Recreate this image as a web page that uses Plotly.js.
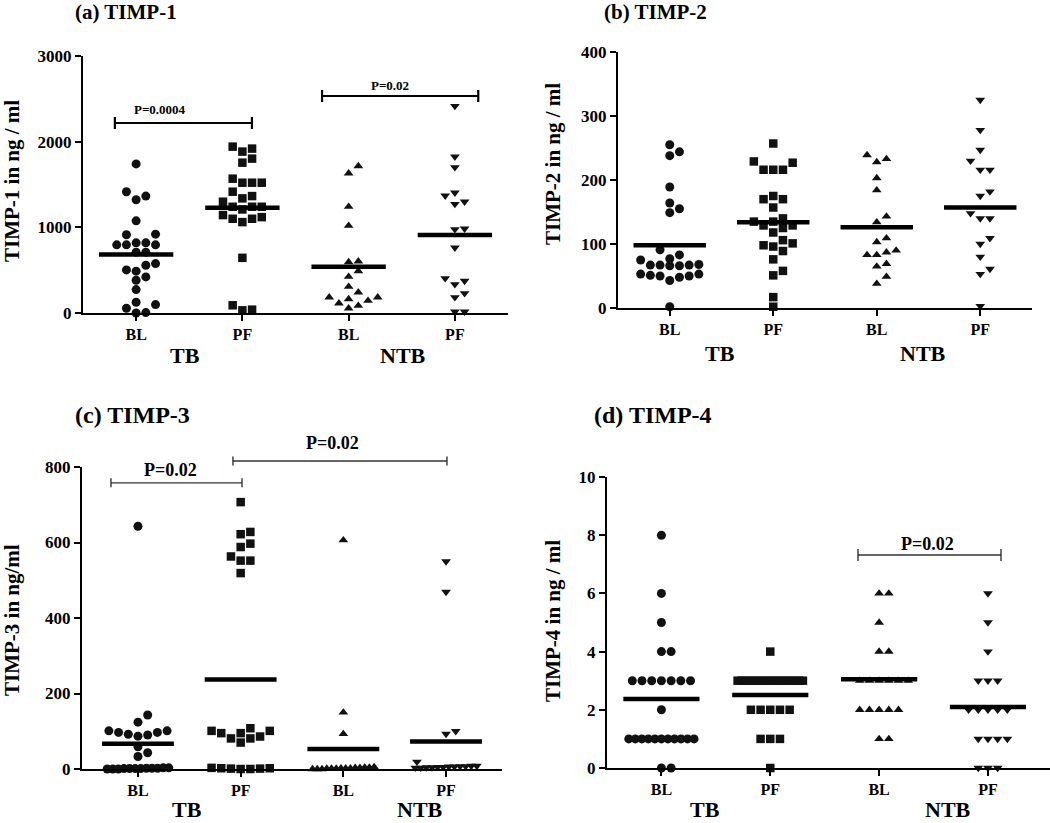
<!DOCTYPE html>
<html><head><meta charset="utf-8">
<script src="https://cdn.plot.ly/plotly-3.0.1.min.js"></script>
<style>html,body{margin:0;padding:0;background:#fff}#chart{width:1050px;height:823px}</style>
</head><body><div id="chart"></div>
<script>
// ---------------- DATA ----------------
const timepoints = ['BL', 'PF', 'BL', 'PF'];
const cohorts = ['TB', 'NTB'];
const panelTitles = ['(a) TIMP-1', '(b) TIMP-2', '(c) TIMP-3', '(d) TIMP-4'];
const yTitles = ['TIMP-1 in ng / ml', 'TIMP-2 in ng / ml', 'TIMP-3 in ng/ml', 'TIMP-4 in ng / ml'];

// (a) TIMP-1
const timp1_TB_BL = [1740, 1416, 1365, 1322, 1076, 920, 913, 819, 819, 796, 796, 796, 710, 710, 577, 558, 503, 488, 421, 382, 273, 125, 98, 55, 5, 0];
const timp1_TB_PF = [1942, 1919, 1884, 1802, 1755, 1568, 1521, 1521, 1521, 1416, 1365, 1338, 1299, 1240, 1240, 1240, 1209, 1143, 1119, 1100, 1100, 1061, 644, 90, 39, 31];
const timp1_NTB_BL = [1716, 1630, 1241, 1019, 603, 595, 490, 424, 307, 241, 183, 183, 163, 144, 113, 86, 54];
const timp1_NTB_PF = [2416, 1825, 1700, 1405, 1370, 1300, 1272, 984, 977, 763, 405, 374, 335, 230, 183, 16, 16];
const timp1_means = [683, 1229, 541, 910];

// (b) TIMP-2
const timp2_TB_BL = [255, 244, 238, 189, 164, 155, 149, 91, 83, 77, 75, 67, 66, 67, 66, 67, 68, 53, 50, 48, 43, 50, 51, 53, 2];
const timp2_TB_PF = [257, 227, 229, 216, 216, 216, 175, 170, 170, 157, 140, 135, 135, 129, 129, 125, 118, 106, 101, 98, 96, 89, 76, 58, 51, 17, 2];
const timp2_NTB_BL = [239, 233, 228, 203, 184, 143, 134, 109, 103, 90, 87, 83, 83, 69, 65, 49, 38];
const timp2_NTB_PF = [325, 278, 247, 230, 216, 216, 182, 175, 148, 140, 140, 109, 100, 80, 61, 53, 3];
const timp2_means = [98, 134, 126, 157];

// (c) TIMP-3
const timp3_TB_BL = [643, 143, 124, 101, 97, 92, 87, 90, 97, 101, 59, 43, 33, 0, 0, 1, 1, 1, 2, 2, 2, 3, 3, 0, 1];
const timp3_TB_PF = [707, 628, 622, 597, 588, 563, 552, 552, 519, 108, 101, 101, 95, 95, 86, 81, 81, 70, 0, 0, 1, 1, 2, 2, 3];
const timp3_NTB_BL = [606, 150, 93, 0, 0, 0, 1, 1, 1, 2, 2, 2, 3, 3, 4, 4, 5];
const timp3_NTB_PF = [550, 469, 100, 93, 19, 3, 3, 4, 4, 5, 5, 6, 6, 7, 7, 8, 8];
const timp3_means = [67, 237, 53, 73];

// (d) TIMP-4
const timp4_TB_BL = [8, 6, 5, 4, 4, 3, 3, 3, 3, 3, 3, 3, 2, 1, 1, 1, 1, 1, 1, 1, 1, 1, 1, 1, 0, 0];
const timp4_TB_PF = [4, 3, 3, 3, 3, 3, 3, 3, 3, 3, 3, 3, 3, 3, 3, 3, 3, 3, 2, 2, 2, 2, 2, 1, 1, 1, 0];
const timp4_NTB_BL = [6, 6, 5, 4, 4, 3, 3, 3, 3, 3, 3, 2, 2, 2, 2, 2, 1, 1];
const timp4_NTB_PF = [6, 5, 4, 3, 3, 3, 2, 2, 2, 2, 2, 1, 1, 1, 1, 0, 0, 0];
const timp4_means = [2.37, 2.51, 3.05, 2.1];

const pTexts_a = ['P=0.0004', 'P=0.02'];
const pTexts_c = ['P=0.02', 'P=0.02'];
const pTexts_d = ['P=0.02'];

// ---------------- LAYOUT / STYLE ----------------
const W = 1050, H = 823;
const SERIF = 'Liberation Serif, Times New Roman, serif';
const symbols = ['circle', 'square', 'triangle-up', 'triangle-down'];
const symSize = [9, 8.5, 8.5, 8.5];

const panels = [
  { groups: [timp1_TB_BL, timp1_TB_PF, timp1_NTB_BL, timp1_NTB_PF], means: timp1_means,
    xpx: [83, 508], ypx: [56, 313], xr: [-0.5, 3.5], yr: [0, 3000], dtick: 1000,
    title: { x: 73, y: 12, size: 21 }, ytitle: { x: 12, y: 181 },
    groupLab: [{ c: 0.46, y: 355 }, { c: 2.51, y: 355 }],
    brackets: [{ c0: -0.2, c1: 1.09, v: 2218, tc: 0.225, tv: 2381, text: pTexts_a[0] },
               { c0: 1.75, c1: 3.22, v: 2533, tc: 2.39, tv: 2650, text: pTexts_a[1] }],
    bStyle: { w: 2.2, col: '#000', tick: 6, font: 13 } },
  { groups: [timp2_TB_BL, timp2_TB_PF, timp2_NTB_BL, timp2_NTB_PF], means: timp2_means,
    xpx: [618, 1032], ypx: [52, 308], xr: [-0.5, 3.5], yr: [0, 400], dtick: 100,
    title: { x: 602, y: 12, size: 21 }, ytitle: { x: 553, y: 164 },
    groupLab: [{ c: 0.49, y: 353 }, { c: 2.45, y: 353 }],
    brackets: [], bStyle: null },
  { groups: [timp3_TB_BL, timp3_TB_PF, timp3_NTB_BL, timp3_NTB_PF], means: timp3_means,
    xpx: [82, 502], ypx: [467, 769], xr: [-0.545, 3.545], yr: [0, 800], dtick: 200,
    title: { x: 73, y: 415, size: 24 }, ytitle: { x: 12, y: 620 },
    groupLab: [{ c: 0.48, y: null }, { c: 2.75, y: null }],
    brackets: [{ c0: -0.263, c1: 1.013, v: 758, tc: 0.317, tv: 792, text: pTexts_c[0] },
               { c0: 0.925, c1: 3.009, v: 816, tc: 1.89, tv: 864, text: pTexts_c[1] }],
    bStyle: { w: 1.4, col: '#333', tick: 4.5, font: 18 } },
  { groups: [timp4_TB_BL, timp4_TB_PF, timp4_NTB_BL, timp4_NTB_PF], means: timp4_means,
    xpx: [607, 1050], ypx: [477, 768], xr: [-0.5, 3.57], yr: [0, 10], dtick: 2,
    title: { x: 592, y: 415, size: 24 }, ytitle: { x: 553, y: 621 },
    groupLab: [{ c: 0.40, y: null }, { c: 2.63, y: null }],
    brackets: [{ c0: 1.806, c1: 3.12, v: 7.32, tc: 2.449, tv: 7.70, text: pTexts_d[0] }],
    bStyle: { w: 1.4, col: '#333', tick: 6, font: 18 } }
];

// dot-plot spreading (Prism-like): points on a grid of marker pitches, ties compressed
function spread(values, pxPerUnit, pxPerCat) {
  const s = 9.7, d = 9, K = 3, halfW = 0.3 * pxPerCat;
  const n = values.length;
  const idx = values.map((v, i) => i).sort((a, b) => values[a] - values[b]);
  const py = values.map(v => v * pxPerUnit);
  const off = new Array(n).fill(null);
  const chains = []; let cur = [idx[0]];
  for (let j = 1; j < n; j++) {
    if (py[idx[j]] - py[idx[j - 1]] < 1.5) cur.push(idx[j]);
    else { chains.push(cur); cur = [idx[j]]; }
  }
  chains.push(cur);
  const placed = [];
  chains.forEach(ch => {
    if (ch.length > 2 * K + 1) {
      const step = 2 * halfW / (ch.length - 1);
      ch.forEach((i, m) => { off[i] = -halfW + m * step; placed.push(i); });
    }
  });
  for (const i of idx) {
    if (off[i] !== null) continue;
    let best = 0, bestScore = -1;
    for (let t = 0; t <= 2 * K; t++) {
      const k = t === 0 ? 0 : (t % 2 ? (t + 1) / 2 : -t / 2);
      const x = k * s;
      let minD = Infinity;
      for (const j of placed) {
        if (Math.abs(off[j] - x) < s * 0.95) minD = Math.min(minD, Math.abs(py[j] - py[i]));
      }
      if (minD >= d) { best = x; break; }
      if (minD > bestScore) { bestScore = minD; best = x; }
    }
    off[i] = best; placed.push(i);
  }
  return off.map(o => o / pxPerCat);
}

const traces = [];
const layout = {
  width: W, height: H, margin: { l: 0, r: 0, t: 0, b: 0 },
  paper_bgcolor: '#fff', plot_bgcolor: '#fff', showlegend: false,
  annotations: [], shapes: [],
  font: { family: SERIF, color: '#000' }
};

panels.forEach((p, pi) => {
  const sfx = pi === 0 ? '' : String(pi + 1);
  const xa = 'x' + sfx, ya = 'y' + sfx;
  const xdom = [p.xpx[0] / W, p.xpx[1] / W];
  const ydom = [1 - p.ypx[1] / H, 1 - p.ypx[0] / H];
  const hPx = p.ypx[1] - p.ypx[0], wPx = p.xpx[1] - p.xpx[0];
  const pxPerUnit = hPx / (p.yr[1] - p.yr[0]);
  const pxPerCat = wPx / (p.xr[1] - p.xr[0]);
  const toPX = c => (p.xpx[0] + (c - p.xr[0]) * pxPerCat) / W;
  const toPY = v => 1 - (p.ypx[1] - (v - p.yr[0]) * pxPerUnit) / H;

  p.groups.forEach((vals, g) => {
    const offs = spread(vals, pxPerUnit, pxPerCat);
    traces.push({
      type: 'scatter', mode: 'markers', xaxis: xa, yaxis: ya, cliponaxis: false,
      x: vals.map((v, i) => g + offs[i]), y: vals,
      marker: { symbol: symbols[g], size: symSize[g], color: '#111', line: { width: 0 } },
      hoverinfo: 'y'
    });
  });
  p.means.forEach((m, g) => {
    traces.push({
      type: 'scatter', mode: 'lines', xaxis: xa, yaxis: ya, cliponaxis: false,
      x: [g - 0.35, g + 0.35], y: [m, m],
      line: { color: '#000', width: 4.5 }, hoverinfo: 'skip'
    });
  });

  layout['xaxis' + sfx] = {
    domain: xdom, range: p.xr, anchor: ya, fixedrange: true,
    tickmode: 'array', tickvals: [0, 1, 2, 3], ticktext: timepoints,
    showline: true, linewidth: 2, linecolor: '#000', mirror: false,
    ticks: 'outside', ticklen: 6, tickwidth: 2, tickcolor: '#000',
    showgrid: false, zeroline: false,
    tickfont: { family: SERIF, size: 16, weight: 'bold', color: '#000' }
  };
  layout['yaxis' + sfx] = {
    domain: ydom, range: p.yr, anchor: xa, fixedrange: true,
    tickmode: 'linear', tick0: 0, dtick: p.dtick,
    showline: true, linewidth: 2, linecolor: '#000',
    ticks: 'outside', ticklen: 6, tickwidth: 2, tickcolor: '#000',
    showgrid: false, zeroline: false,
    tickfont: { family: SERIF, size: 17, weight: 'bold', color: '#000' }
  };

  // panel title
  layout.annotations.push({
    xref: 'paper', yref: 'paper', x: p.title.x / W, y: 1 - p.title.y / H,
    xanchor: 'left', yanchor: 'middle', showarrow: false, text: panelTitles[pi],
    font: { family: SERIF, size: p.title.size, weight: 'bold', color: '#000' }
  });
  // y title
  layout.annotations.push({
    xref: 'paper', yref: 'paper', x: p.ytitle.x / W, y: 1 - p.ytitle.y / H,
    xanchor: 'center', yanchor: 'middle', showarrow: false, textangle: -90, text: yTitles[pi],
    font: { family: SERIF, size: 21, weight: 'bold', color: '#000' }
  });
  // cohort labels (bottom row sits on the lower page edge)
  p.groupLab.forEach((gl, k) => {
    const atEdge = gl.y === null;
    layout.annotations.push({
      xref: 'paper', yref: 'paper', x: toPX(gl.c), y: atEdge ? 0 : 1 - gl.y / H,
      xanchor: 'center', yanchor: atEdge ? 'bottom' : 'middle', borderpad: 0,
      showarrow: false, text: cohorts[k],
      font: { family: SERIF, size: 22, weight: 'bold', color: '#000' }
    });
  });
  // significance brackets
  p.brackets.forEach(b => {
    const st = p.bStyle;
    const yb = toPY(b.v), dt = st.tick / H;
    const x0 = toPX(b.c0), x1 = toPX(b.c1);
    const ln = { color: st.col, width: st.w };
    layout.shapes.push({ type: 'line', xref: 'paper', yref: 'paper', x0: x0, x1: x1, y0: yb, y1: yb, line: ln });
    layout.shapes.push({ type: 'line', xref: 'paper', yref: 'paper', x0: x0, x1: x0, y0: yb - dt, y1: yb + dt, line: ln });
    layout.shapes.push({ type: 'line', xref: 'paper', yref: 'paper', x0: x1, x1: x1, y0: yb - dt, y1: yb + dt, line: ln });
    layout.annotations.push({
      xref: 'paper', yref: 'paper', x: toPX(b.tc), y: toPY(b.tv),
      xanchor: 'center', yanchor: 'middle', showarrow: false, text: b.text,
      font: { family: SERIF, size: st.font, weight: 'bold', color: '#000' }
    });
  });
});

Plotly.newPlot('chart', traces, layout, { staticPlot: true, displayModeBar: false });
</script>
</body></html>
